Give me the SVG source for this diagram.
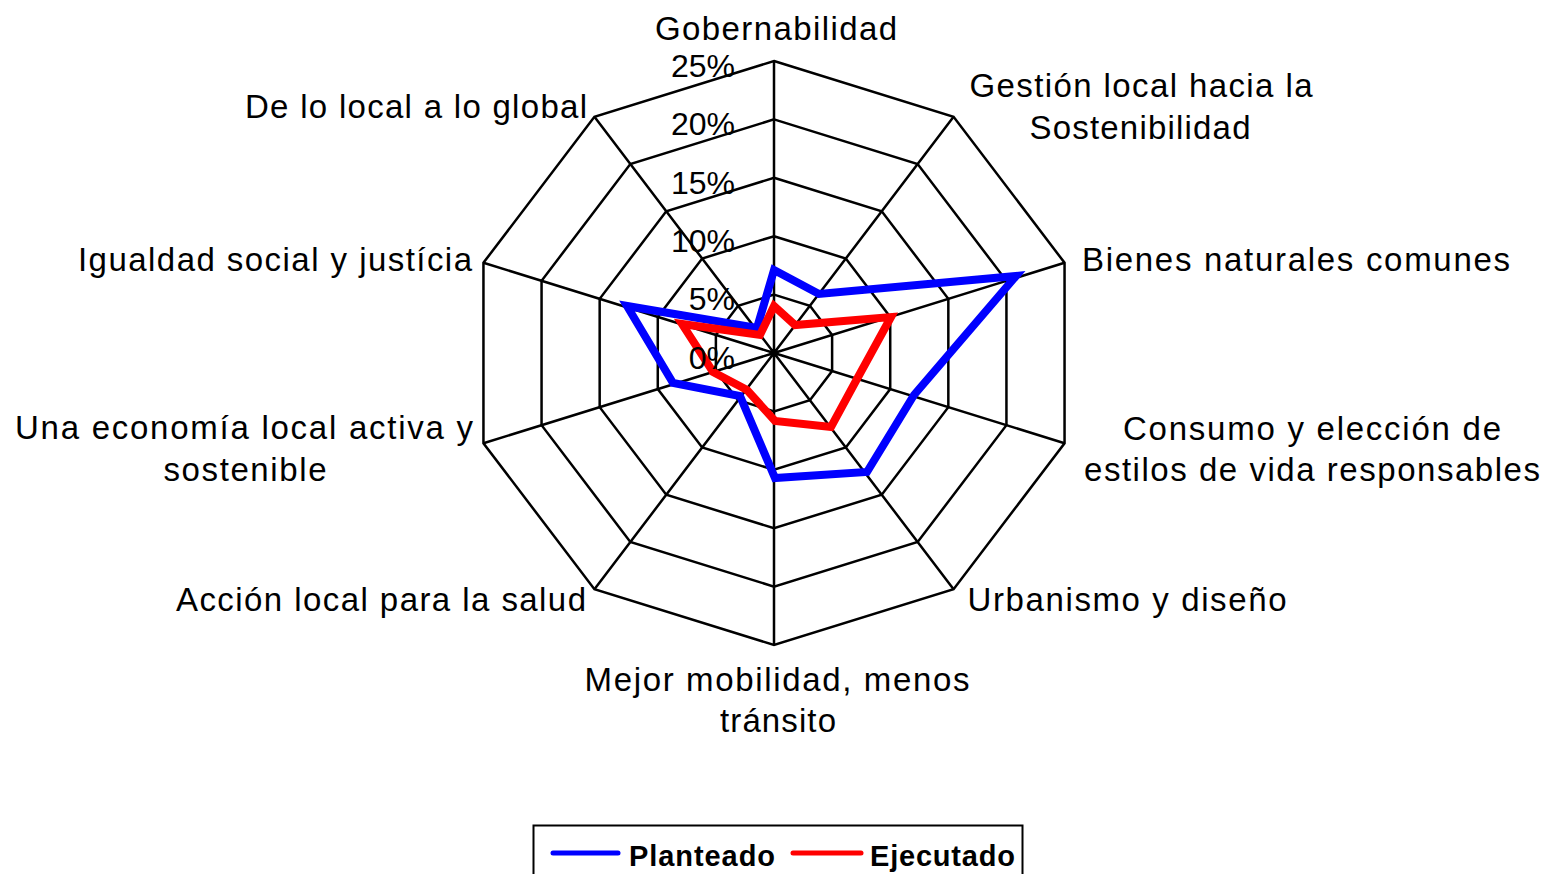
<svg xmlns="http://www.w3.org/2000/svg" width="1548" height="874" viewBox="0 0 1548 874">
<style>
.grid{fill:none;stroke:#000;stroke-width:2.5;stroke-linejoin:miter}
.lbl{font-family:"Liberation Sans",Arial,sans-serif;font-size:33px;fill:#000;text-anchor:middle}
.tick{font-family:"Liberation Sans",Arial,sans-serif;font-size:32px;fill:#000;text-anchor:end}
.ser{fill:none;stroke-width:8;stroke-linejoin:miter;stroke-miterlimit:10}
.leg{font-family:"Liberation Sans",Arial,sans-serif;font-size:29px;font-weight:bold;fill:#000}
</style>
<rect width="1548" height="874" fill="#fff"/>
<g id="grid">
<polygon class="grid" points="774,294.6 809.91,305.75 832.11,334.95 832.11,371.05 809.91,400.25 774,411.4 738.09,400.25 715.89,371.05 715.89,334.95 738.09,305.75"/>
<polygon class="grid" points="774,236.2 845.83,258.51 890.22,316.91 890.22,389.09 845.83,447.49 774,469.8 702.17,447.49 657.78,389.09 657.78,316.91 702.17,258.51"/>
<polygon class="grid" points="774,177.8 881.74,211.26 948.33,298.86 948.33,407.14 881.74,494.74 774,528.2 666.26,494.74 599.67,407.14 599.67,298.86 666.26,211.26"/>
<polygon class="grid" points="774,119.4 917.66,164.02 1006.44,280.82 1006.44,425.18 917.66,541.98 774,586.6 630.34,541.98 541.56,425.18 541.56,280.82 630.34,164.02"/>
<polygon class="grid" points="774,61 953.57,116.77 1064.55,262.77 1064.55,443.23 953.57,589.23 774,645 594.43,589.23 483.45,443.23 483.45,262.77 594.43,116.77"/>
<path class="grid" d="M774,353L774,61M774,353L953.57,116.77M774,353L1064.55,262.77M774,353L1064.55,443.23M774,353L953.57,589.23M774,353L774,645M774,353L594.43,589.23M774,353L483.45,443.23M774,353L483.45,262.77M774,353L594.43,116.77"/>
</g>
<g id="connectors">
<polygon id="planteado" class="ser" stroke="#0000ff" points="774,270 819,294 1016,276 914,395 867,472 775,478 740,396 673,383 627,306 757,328"/>
<polygon id="ejecutado" class="ser" stroke="#ff0000" points="774,306 795,325 891,317 857,379 831,427 775,421 747,390 713,372 682,324 760,335"/>
</g>
<g id="ticks">
<text class="tick" x="735" y="77">25%</text>
<text class="tick" x="735" y="135">20%</text>
<text class="tick" x="735" y="194">15%</text>
<text class="tick" x="735" y="252">10%</text>
<text class="tick" x="735" y="310">5%</text>
<text class="tick" x="735" y="369">0%</text>
</g>
<g id="n-gobernabilidad"><text class="lbl" x="776" y="40" textLength="242" lengthAdjust="spacing">Gobernabilidad</text></g>
<g id="n-gestion"><text class="lbl" x="1141" y="97" textLength="343" lengthAdjust="spacing">Gestión local hacia la</text><text class="lbl" x="1140" y="139" textLength="221" lengthAdjust="spacing">Sostenibilidad</text></g>
<g id="n-bienes"><text class="lbl" x="1296" y="271" textLength="428" lengthAdjust="spacing">Bienes naturales comunes</text></g>
<g id="n-consumo"><text class="lbl" x="1312" y="440" textLength="378" lengthAdjust="spacing">Consumo y elección de</text><text class="lbl" x="1312" y="481" textLength="456" lengthAdjust="spacing">estilos de vida responsables</text></g>
<g id="n-urbanismo"><text class="lbl" x="1127" y="611" textLength="319" lengthAdjust="spacing">Urbanismo y diseño</text></g>
<g id="n-mobilidad"><text class="lbl" x="777" y="691" textLength="385" lengthAdjust="spacing">Mejor mobilidad, menos</text><text class="lbl" x="778" y="732" textLength="116" lengthAdjust="spacing">tránsito</text></g>
<g id="n-salud"><text class="lbl" x="381" y="611" textLength="410" lengthAdjust="spacing">Acción local para la salud</text></g>
<g id="n-economia"><text class="lbl" x="244" y="439" textLength="458" lengthAdjust="spacing">Una economía local activa y</text><text class="lbl" x="245" y="481" textLength="163" lengthAdjust="spacing">sostenible</text></g>
<g id="n-igualdad"><text class="lbl" x="275" y="271" textLength="394" lengthAdjust="spacing">Igualdad social y justícia</text></g>
<g id="n-global"><text class="lbl" x="416" y="118" textLength="342" lengthAdjust="spacing">De lo local a lo global</text></g>
<g id="legend">
<rect x="533.5" y="825.5" width="489" height="70" fill="#fff" stroke="#000" stroke-width="2"/>
<line x1="553" y1="853" x2="618" y2="853" stroke="#0000ff" stroke-width="5" stroke-linecap="round"/>
<text class="leg" x="629" y="866" textLength="146" lengthAdjust="spacing">Planteado</text>
<line x1="793" y1="853" x2="861" y2="853" stroke="#ff0000" stroke-width="5" stroke-linecap="round"/>
<text class="leg" x="870" y="866" textLength="145" lengthAdjust="spacing">Ejecutado</text>
</g>
</svg>
